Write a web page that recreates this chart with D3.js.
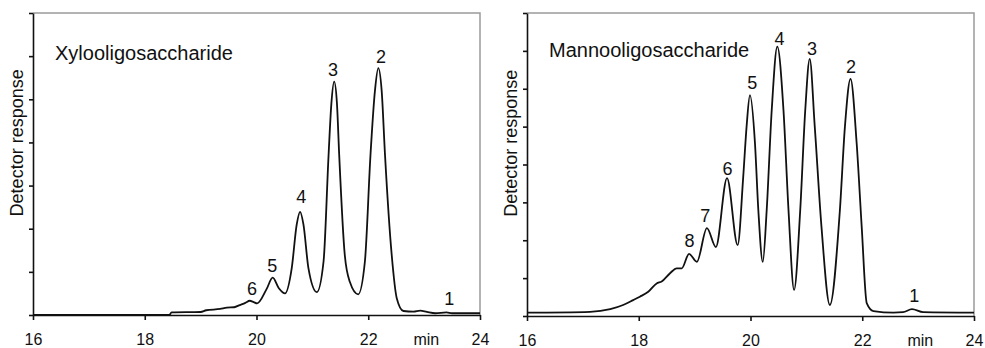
<!DOCTYPE html>
<html>
<head>
<meta charset="utf-8">
<script src="https://d3js.org/d3.v7.min.js"></script>
<style>
  body { margin: 0; background: #fff; }
  text { font-family: "Liberation Sans", Arial, sans-serif; fill: #111; }
</style>
</head>
<body>
<script>
// retention time (min) / detector response
var xyloTime = [16.0, 18.44, 18.48, 19.0, 19.1, 19.35, 19.47, 19.6, 19.7, 19.8, 19.88, 19.95, 20.01,
  20.18, 20.29, 20.4, 20.51, 20.63, 20.72, 20.78, 20.84, 20.93, 21.08, 21.2, 21.29, 21.34, 21.39,
  21.44, 21.48, 21.58, 21.67, 21.82, 21.94, 22.04, 22.12, 22.18, 22.24, 22.3, 22.42, 22.51, 22.63,
  22.81, 22.93, 23.05, 23.2, 23.4, 23.5, 24.0];
var xyloResp = [0.0, 0.0, 0.06, 0.07, 0.11, 0.14, 0.17, 0.18, 0.23, 0.28, 0.33, 0.3, 0.27,
  0.6, 0.865, 0.62, 0.5, 1.08, 2.1, 2.39, 2.1, 1.08, 0.53, 1.24, 3.71, 4.9, 5.41,
  4.9, 3.71, 1.39, 0.77, 0.48, 1.24, 3.71, 5.2, 5.72, 5.2, 3.71, 1.39, 0.39, 0.093,
  0.077, 0.1, 0.07, 0.04, 0.06, 0.04, 0.04];
var xyloPeakNo = ["6", "5", "4", "3", "2", "1"];
var xyloPeakTime = [19.92, 20.28, 20.8, 21.37, 22.23, 23.45];
var xyloPeakResp = [0.46, 1.0, 2.6, 5.54, 5.84, 0.23];

var mannoTime = [16.0, 17.13, 17.49, 17.72, 17.9, 18.02, 18.17, 18.32, 18.41, 18.56, 18.68, 18.77,
  18.9, 19.04, 19.22, 19.38, 19.58, 19.77, 19.87, 19.93, 19.99, 20.08, 20.14, 20.22, 20.29, 20.38,
  20.48, 20.59, 20.68, 20.78, 20.89, 20.98, 21.06, 21.15, 21.27, 21.42, 21.6, 21.69, 21.79, 21.9,
  21.99, 22.08, 22.2, 22.56, 22.73, 22.89, 23.09, 24.0];
var mannoResp = [0.087, 0.11, 0.18, 0.29, 0.42, 0.51, 0.64, 0.86, 0.91, 1.13, 1.26, 1.26,
  1.64, 1.43, 2.32, 1.82, 3.64, 1.87, 3.68, 5.0, 5.83, 4.56, 2.8, 1.43, 2.8, 5.44,
  7.11, 5.44, 2.8, 0.69, 2.8, 5.44, 6.79, 5.0, 2.36, 0.29, 2.8, 5.0, 6.26, 4.56,
  2.36, 0.34, 0.13, 0.087, 0.1, 0.18, 0.1, 0.087];
var mannoPeakNo = ["8", "7", "6", "5", "4", "3", "2", "1"];
var mannoPeakTime = [18.91, 19.19, 19.59, 20.03, 20.52, 21.1, 21.8, 22.93];
var mannoPeakResp = [1.82, 2.48, 3.72, 5.99, 7.16, 6.89, 6.42, 0.37];

var timeTicks = [16, 18, 20, 22, 24];

var W = 985, H = 348, panelW = 447;

var svg = d3.select("body").append("svg")
  .attr("width", W)
  .attr("height", H);

function drawPanel(cfg) {
  var g = svg.append("g")
    .attr("transform", "translate(" + cfg.left + "," + cfg.top + ")");

  var x = d3.scaleLinear().domain([16, 24]).range([0, panelW]);
  var y = d3.scaleLinear().domain([0, cfg.yMax]).range([cfg.h, 0]);

  // grey frame on top and right
  g.append("path")
    .attr("d", "M0,0H" + panelW + "V" + cfg.h)
    .attr("fill", "none")
    .attr("stroke", "#9a9a9a")
    .attr("stroke-width", 1.5);

  var pts = cfg.time.map(function (t, i) { return [t, cfg.resp[i]]; });
  g.append("path")
    .datum(pts)
    .attr("fill", "none")
    .attr("stroke", "#111")
    .attr("stroke-width", 1.8)
    .attr("stroke-linejoin", "round")
    .attr("d", d3.line()
      .x(function (d) { return x(d[0]); })
      .y(function (d) { return y(d[1]); })
      .curve(d3.curveMonotoneX));

  var yAxis = g.append("g")
    .call(d3.axisLeft(y)
      .tickValues(d3.range(0, cfg.yMax + 1))
      .tickFormat("")
      .tickSize(4)
      .tickSizeOuter(0));
  yAxis.selectAll("path, line").attr("stroke", "#111").attr("stroke-width", 1.6);

  var xAxis = g.append("g")
    .attr("transform", "translate(0," + cfg.h + ")")
    .call(d3.axisBottom(x)
      .tickValues(timeTicks)
      .tickSize(5)
      .tickSizeOuter(0)
      .tickPadding(14));
  xAxis.selectAll("path, line").attr("stroke", "#111").attr("stroke-width", 1.6);
  xAxis.selectAll("text")
    .attr("fill", "#111")
    .style("font-size", "16px")
    .style("font-family", "'Liberation Sans', Arial, sans-serif");

  g.append("text")
    .attr("x", x(23.04))
    .attr("y", cfg.h + 30)
    .attr("text-anchor", "middle")
    .style("font-size", "16px")
    .text("min");

  g.append("text")
    .attr("transform", "translate(-10.5," + (cfg.h * 0.43) + ") rotate(-90)")
    .attr("text-anchor", "middle")
    .style("font-size", "18px")
    .text("Detector response");

  g.append("text")
    .attr("x", 22)
    .attr("y", cfg.titleY)
    .style("font-size", "20px")
    .text(cfg.title);

  g.selectAll(".peak")
    .data(cfg.peakNo)
    .enter().append("text")
    .attr("class", "peak")
    .attr("x", function (d, i) { return x(cfg.peakTime[i]); })
    .attr("y", function (d, i) { return y(cfg.peakResp[i]); })
    .attr("text-anchor", "middle")
    .style("font-size", "18px")
    .text(function (d) { return d; });
}

drawPanel({
  left: 33, top: 13, h: 302, yMax: 7, titleY: 47,
  title: "Xylooligosaccharide",
  time: xyloTime, resp: xyloResp,
  peakNo: xyloPeakNo, peakTime: xyloPeakTime, peakResp: xyloPeakResp
});

drawPanel({
  left: 527, top: 13, h: 303, yMax: 8, titleY: 44,
  title: "Mannooligosaccharide",
  time: mannoTime, resp: mannoResp,
  peakNo: mannoPeakNo, peakTime: mannoPeakTime, peakResp: mannoPeakResp
});
</script>
</body>
</html>
